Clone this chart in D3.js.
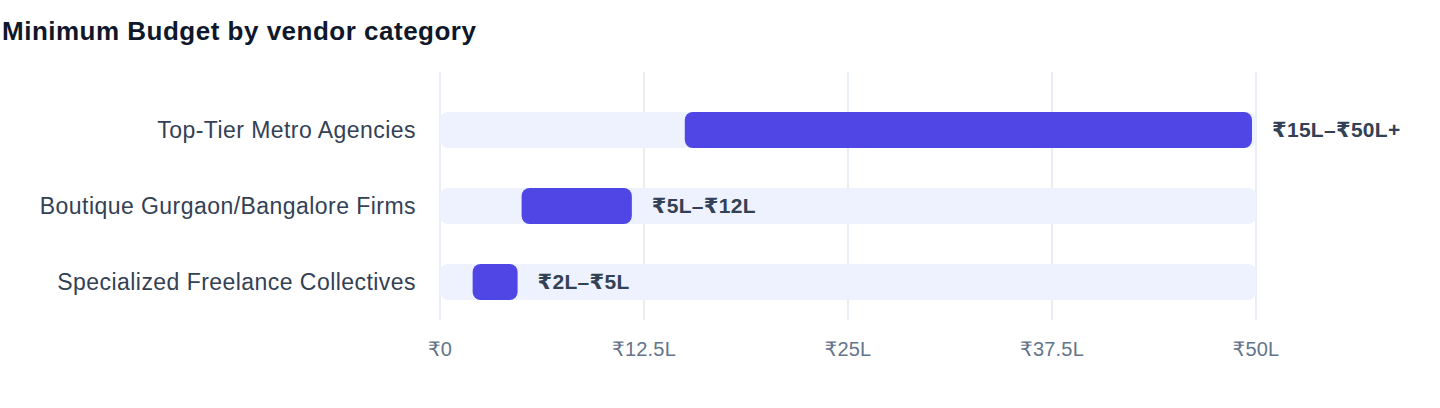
<!DOCTYPE html>
<html>
<head>
<meta charset="utf-8">
<script src="https://cdn.jsdelivr.net/npm/d3@7"></script>
<style>
  body { margin: 0; background: #fff; font-family: "Liberation Sans", Arial, "DejaVu Sans", sans-serif; }
</style>
</head>
<body>
<script>
// data
var categories = ["Top-Tier Metro Agencies", "Boutique Gurgaon/Bangalore Firms", "Specialized Freelance Collectives"];
var minValues = [15, 5, 2];
var maxValues = [50, 12, 5];
var rangeLabels = ["₹15L–₹50L+", "₹5L–₹12L", "₹2L–₹5L"];
var tickValues = [0, 12.5, 25, 37.5, 50];
var tickLabels = ["₹0", "₹12.5L", "₹25L", "₹37.5L", "₹50L"];

var data = categories.map((c, i) => ({
    name: c, min: minValues[i], max: maxValues[i], label: rangeLabels[i]
}));

var W = 1440, H = 408;
var margin = { top: 72, left: 440, right: 184, bottom: 88 };

var svg = d3.select("body").append("svg")
    .attr("width", W)
    .attr("height", H);

svg.append("text")
    .attr("x", 2)
    .attr("y", 40)
    .attr("font-size", "26px")
    .attr("letter-spacing", "0.5px")
    .attr("font-weight", "bold")
    .attr("fill", "#0f172a")
    .text("Minimum Budget by vendor category");

var x = d3.scaleLinear()
    .domain([0, 50])
    .range([margin.left, W - margin.right]);

var y = d3.scaleBand()
    .domain(categories)
    .range([92, H - margin.bottom])
    .paddingInner(0.526)
    .paddingOuter(0.263);

// vertical grid lines
svg.append("g").selectAll("line")
    .data(tickValues)
    .enter()
    .append("line")
    .attr("x1", (d) => x(d))
    .attr("x2", (d) => x(d))
    .attr("y1", margin.top)
    .attr("y2", H - margin.bottom)
    .attr("stroke", "#e2e8f0")
    .attr("stroke-width", 1.5);

// tick labels
svg.append("g").selectAll("text")
    .data(tickValues)
    .enter()
    .append("text")
    .attr("x", (d) => x(d))
    .attr("y", 349)
    .attr("dy", "0.35em")
    .attr("text-anchor", "middle")
    .attr("font-size", "20px")
    .attr("letter-spacing", "0.2px")
    .attr("fill", "#64748b")
    .text((d, i) => tickLabels[i]);

// background tracks
svg.append("g").selectAll("rect")
    .data(data)
    .enter()
    .append("rect")
    .attr("x", x(0))
    .attr("y", (d) => y(d.name))
    .attr("width", x(50) - x(0))
    .attr("height", y.bandwidth())
    .attr("rx", 8)
    .attr("fill", "#eef2ff");

// range bars
svg.append("g").selectAll("rect")
    .data(data)
    .enter()
    .append("rect")
    .attr("x", (d) => x(d.min))
    .attr("y", (d) => y(d.name))
    .attr("width", (d) => x(d.max) - x(d.min) - 4)
    .attr("height", y.bandwidth())
    .attr("rx", 8)
    .attr("fill", "#4f46e5");

// category labels
svg.append("g").selectAll("text")
    .data(data)
    .enter()
    .append("text")
    .attr("x", margin.left - 24)
    .attr("y", (d) => y(d.name) + y.bandwidth() / 2)
    .attr("dy", "0.35em")
    .attr("text-anchor", "end")
    .attr("font-size", "23px")
    .attr("letter-spacing", "0.45px")
    .attr("fill", "#334155")
    .text((d) => d.name);

// value labels
svg.append("g").selectAll("text")
    .data(data)
    .enter()
    .append("text")
    .attr("x", (d) => x(d.max) - 4 + 20)
    .attr("y", (d) => y(d.name) + y.bandwidth() / 2)
    .attr("dy", "0.35em")
    .attr("font-size", "21px")
    .attr("letter-spacing", "0.3px")
    .attr("font-weight", "bold")
    .attr("fill", "#334155")
    .text((d) => d.label);
</script>
</body>
</html>
